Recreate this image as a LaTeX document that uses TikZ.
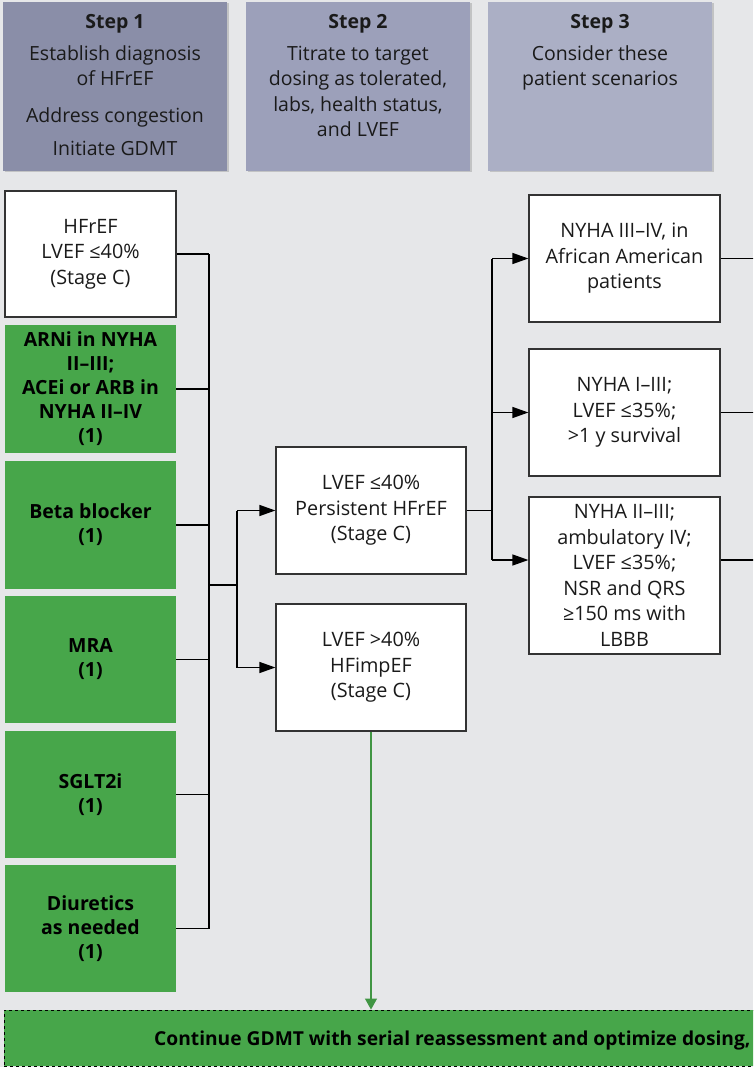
\documentclass[tikz,border=0pt]{standalone}
\usepackage{fontspec}
\setmainfont{Open Sans}
\usetikzlibrary{arrows.meta,shadows}
\definecolor{bgc}{HTML}{E6E7E9}
\definecolor{hdrA}{HTML}{8A8EA8}
\definecolor{hdrB}{HTML}{9CA0BA}
\definecolor{hdrC}{HTML}{ABAFC5}
\definecolor{gdmt}{HTML}{47A64A}
\definecolor{ink}{HTML}{1A1A1A}
\tikzset{
  hdrbox/.style={minimum width=224pt, minimum height=169pt, inner sep=0pt,
    drop shadow={shadow xshift=1.5pt, shadow yshift=-1.5pt, opacity=0.35}},
  hdrtext/.style={anchor=north, align=center, inner sep=0pt, text=ink,
    font=\fontsize{19.5}{25.5}\selectfont},
  wbox/.style={draw=black!80, line width=1.2pt, fill=white, align=center, inner sep=0pt,
    text=ink, font=\fontsize{19.8}{25.5}\selectfont},
  gbox/.style={fill=gdmt, align=center, inner sep=0pt, text=black,
    minimum width=171pt, minimum height=127pt,
    font=\fontsize{19.5}{24}\selectfont\bfseries},
  conn/.style={line width=1.3pt, black},
  arr/.style={conn, -{Triangle[length=16pt,width=11pt]}},
  garr/.style={line width=1.1pt, gdmt!90!black, -{Triangle[length=11pt,width=12pt]}},
}
\begin{document}
\begin{tikzpicture}[x=1pt,y=-1pt]
\useasboundingbox (0,0) rectangle (753,1067);
\clip (0,0) rectangle (753,1067);
\fill[bgc] (0,0) rectangle (753,1067);

% headers
\node[hdrbox, fill=hdrA] (h1) at (115,86.5) {};
\node[hdrbox, fill=hdrB] (h2) at (358,86.5) {};
\node[hdrbox, fill=hdrC] (h3) at (600,86.5) {};
\node[hdrtext] (h1t) at (115,14) {\textbf{Step 1}\\[6.5pt]Establish diagnosis\\of HFrEF\\[11.5pt]Address congestion\\[7.5pt]Initiate GDMT};
\node[hdrtext] (h2t) at (358,14) {\textbf{Step 2}\\[6.5pt]Titrate to target\\dosing as tolerated,\\labs, health status,\\and LVEF};
\node[hdrtext] (h3t) at (600,14) {\textbf{Step 3}\\[6.5pt]Consider these\\patient scenarios};

% left column
\node[wbox, minimum width=171pt, minimum height=126pt] (hfref) at (90.5,254) {HFrEF\\LVEF ≤40\%\\(Stage C)};
\node[gbox, minimum height=128pt] (arni) at (90.5,389) {ARNi in NYHA\\II–III;\\ACEi or ARB in\\NYHA II–IV\\(1)};
\node[gbox, minimum height=128pt] (beta) at (90.5,525) {Beta blocker\\(1)};
\node[gbox] (mra) at (90.5,659.5) {MRA\\(1)};
\node[gbox] (sglt) at (90.5,794.5) {SGLT2i\\(1)};
\node[gbox] (diur) at (90.5,928.5) {Diuretics\\as needed\\(1)};

% middle column
\node[wbox, minimum width=190pt, minimum height=127pt] (lvef) at (371,510.5) {LVEF ≤40\%\\Persistent HFrEF\\(Stage C)};
\node[wbox, minimum width=190pt, minimum height=127pt] (impef) at (371,667.5) {LVEF >40\%\\HFimpEF\\(Stage C)};

% right column
\node[wbox, minimum width=191pt, minimum height=127pt] (aa) at (624.5,258.5) {NYHA III–IV, in\\African American\\patients};
\node[wbox, minimum width=191pt, minimum height=127pt] (icd) at (624.5,412.5) {NYHA I–III;\\LVEF ≤35\%;\\>1 y survival};
\node[wbox, minimum width=191pt, minimum height=157pt] (crt) at (624.5,575.5) {NYHA II–III;\\ambulatory IV;\\LVEF ≤35\%;\\NSR and QRS\\≥150 ms with\\LBBB};
\coordinate (crtin) at ([yshift=15.5pt]crt.west);
\coordinate (crtout) at ([yshift=15.5pt]crt.east);

% bottom box
\node[fill=gdmt, draw=black, dashed, line width=0.9pt, minimum width=900pt, minimum height=56pt, inner sep=0pt] (cont) at (454,1038) {};
\node[anchor=west, inner sep=0pt, font=\fontsize{19.2}{22}\selectfont\bfseries, text=black] (contt) at (154,1040) {Continue GDMT with serial reassessment and optimize dosing,};

% bracket left
\coordinate (bx) at (209,0);
\coordinate (jn) at (237,585);
\foreach \n in {hfref,arni,beta,mra,sglt,diur}
  \draw[conn] (\n.east) -- (\n.east -| bx);
\draw[conn] (hfref.east -| bx) -- (diur.east -| bx);
\draw[conn] (bx |- jn) -- (jn);
\draw[conn] (jn |- lvef.west) -- (jn |- impef.west);
\draw[arr] (jn |- lvef.west) -- (lvef.west);
\draw[arr] (jn |- impef.west) -- (impef.west);

% split right
\coordinate (sx) at (492,508);
\draw[conn] (lvef.east) -- (lvef.east -| sx);
\draw[conn] (sx |- aa.west) -- (sx |- crtin);
\draw[arr] (sx |- aa.west) -- (aa.west);
\draw[arr] (sx |- icd.west) -- (icd.west);
\draw[arr] (sx |- crtin) -- (crtin);

% outgoing to right edge
\coordinate (rx) at (770,0);
\draw[conn] (aa.east) -- (aa.east -| rx);
\draw[conn] (icd.east) -- (icd.east -| rx);
\draw[conn] (crtout) -- (crtout -| rx);

% green arrow
\draw[garr] (impef.south) -- (impef.south |- cont.north);
\end{tikzpicture}
\end{document}
